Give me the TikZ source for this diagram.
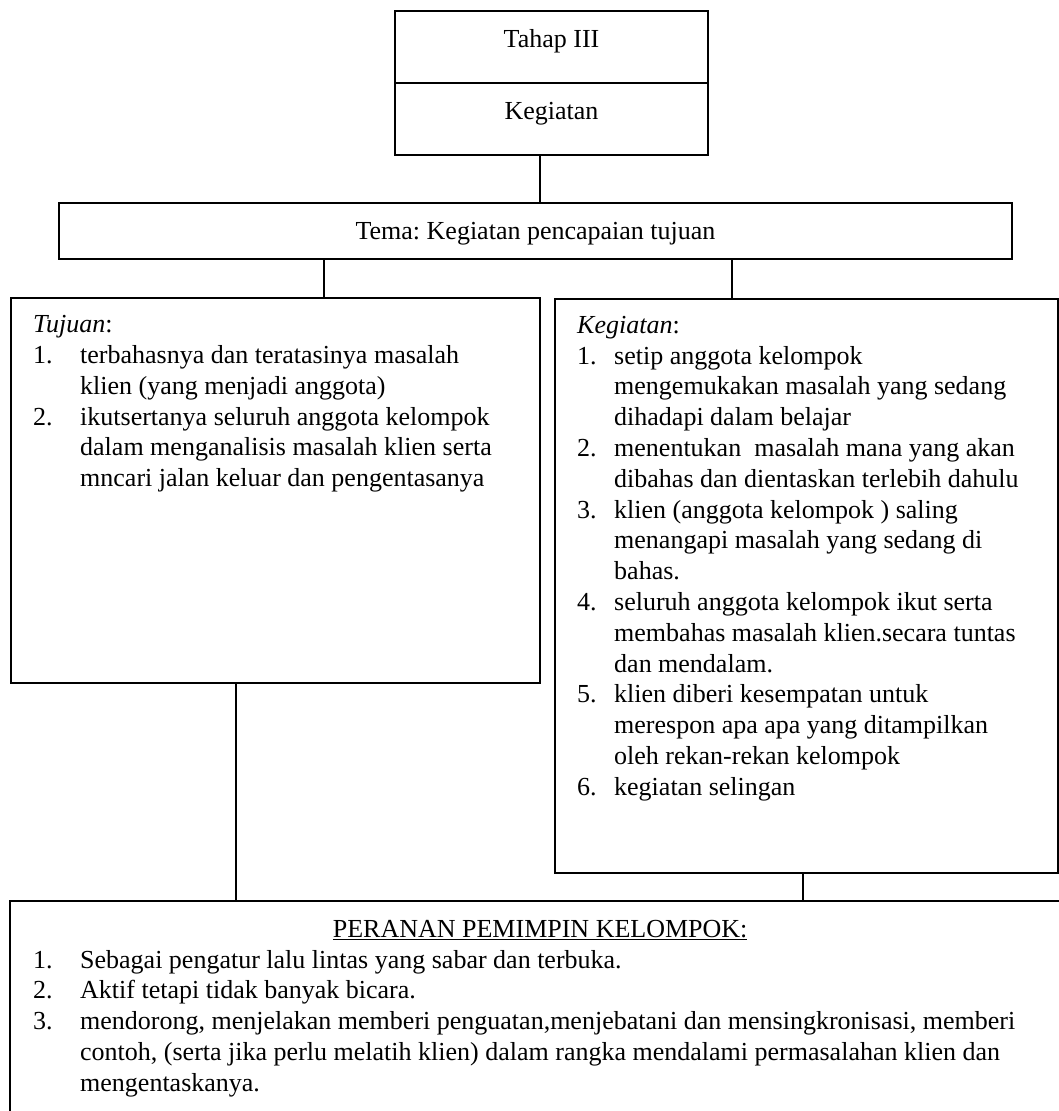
\documentclass[tikz,border=0pt]{standalone}
\usepackage{fontspec}
\setmainfont{Liberation Serif}
\usetikzlibrary{positioning}
\frenchspacing

\begin{document}
\begin{tikzpicture}[x=1pt, y=-1pt,
    cell/.style={draw, line width=1.2pt, outer sep=0pt, inner sep=0pt, minimum width=313pt, minimum height=72pt, text height=11pt, text depth=11pt},
    frame/.style={draw, line width=1.2pt, outer sep=0pt, inner sep=0pt, anchor=north west},
    txt/.style={inner sep=0pt, anchor=north west},
    conn/.style={line width=1.2pt},
    every node/.style={font=\fontsize{26}{30.8}\selectfont}
]
\clip (0,0) rectangle (1059,1111);

% kotak judul
\node[cell, anchor=north west] (tahap) at (395,11) {Tahap III};
\node[cell, below=0pt of tahap] (kegtop) {Kegiatan};

\node[frame, minimum width=953pt, minimum height=56pt, text height=19pt, text depth=3pt] (tema) at (59,203) {Tema: Kegiatan pencapaian tujuan};

% kotak tujuan dan kegiatan
\node[frame, minimum width=529pt, minimum height=385pt] (tujuan) at (11,298) {};
\node[frame, minimum width=503pt, minimum height=574pt] (kegiatan) at (555,299) {};
\node[frame, minimum width=1060pt, minimum height=230pt] (peran) at (10,901) {};

\node[txt, below right=13pt and 22pt of tujuan.north west] (tujuantxt) {%
\begin{tabular}{@{}p{47pt}@{}l@{}}
\multicolumn{2}{@{}l@{}}{\textit{Tujuan}:}\\
1. & terbahasnya dan teratasinya masalah\\
   & klien (yang menjadi anggota)\\
2. & ikutsertanya seluruh anggota kelompok\\
   & dalam menganalisis masalah klien serta\\
   & mncari jalan keluar dan pengentasanya
\end{tabular}};

\node[txt, below right=12.5pt and 22pt of kegiatan.north west] (kegiatantxt) {%
\begin{tabular}{@{}p{37pt}@{}l@{}}
\multicolumn{2}{@{}l@{}}{\textit{Kegiatan}:}\\
1. & setip anggota kelompok\\
   & mengemukakan masalah yang sedang\\
   & dihadapi dalam belajar\\
2. & menentukan~ masalah mana yang akan\\
   & dibahas dan dientaskan terlebih dahulu\\
3. & klien (anggota kelompok ) saling\\
   & menangapi masalah yang sedang di\\
   & bahas.\\
4. & seluruh anggota kelompok ikut serta\\
   & membahas masalah klien.secara tuntas\\
   & dan mendalam.\\
5. & klien diberi kesempatan untuk\\
   & merespon apa apa yang ditampilkan\\
   & oleh rekan-rekan kelompok\\
6. & kegiatan selingan
\end{tabular}};

\node[txt, below right=14.5pt and 23pt of peran.north west] (perantxt) {%
\begin{tabular}{@{}p{47pt}@{}l@{}}
\multicolumn{2}{@{}l@{}}{\makebox[1014pt]{\underline{PERANAN PEMIMPIN KELOMPOK:}}}\\
1. & Sebagai pengatur lalu lintas yang sabar dan terbuka.\\
2. & Aktif tetapi tidak banyak bicara.\\
3. & mendorong, menjelakan memberi penguatan,menjebatani dan mensingkronisasi, memberi\\
   & contoh, (serta jika perlu melatih klien) dalam rangka mendalami permasalahan klien dan\\
   & mengentaskanya.
\end{tabular}};

% garis penghubung
\draw[conn] ([xshift=-11.5pt]kegtop.south) -- ([xshift=-11.5pt]kegtop.south |- tema.north);
\draw[conn] ([xshift=48.5pt]tujuan.north) -- ([xshift=48.5pt]tujuan.north |- tema.south);
\draw[conn] ([xshift=-74.5pt]kegiatan.north) -- ([xshift=-74.5pt]kegiatan.north |- tema.south);
\draw[conn] ([xshift=-39.5pt]tujuan.south) -- ([xshift=-39.5pt]tujuan.south |- peran.north);
\draw[conn] ([xshift=-3.5pt]kegiatan.south) -- ([xshift=-3.5pt]kegiatan.south |- peran.north);

\end{tikzpicture}
\end{document}
